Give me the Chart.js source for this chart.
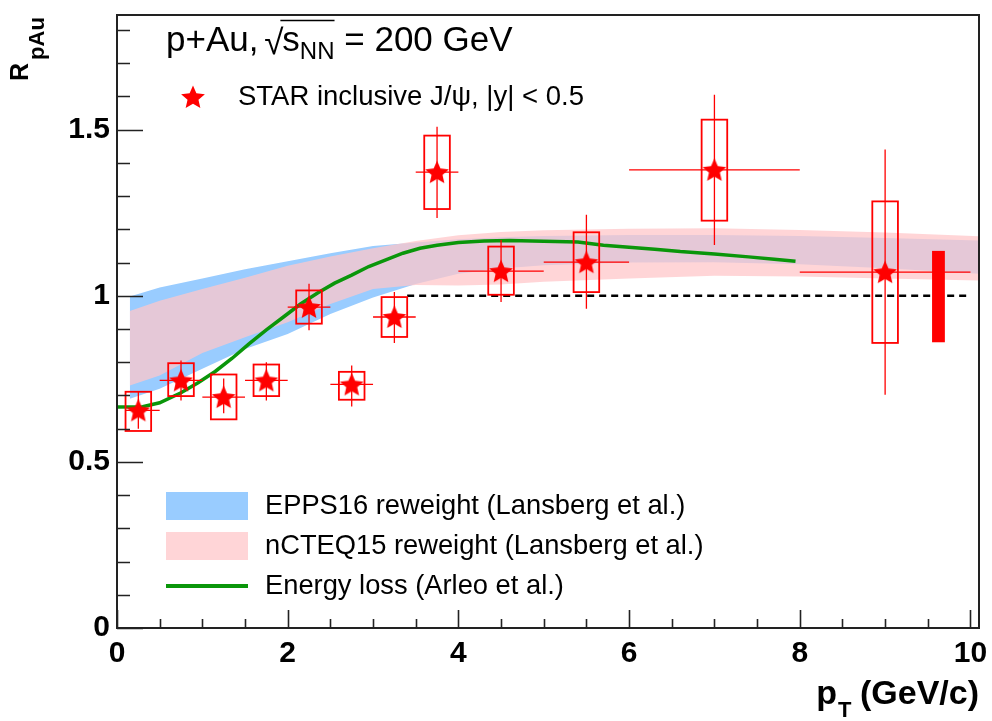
<!DOCTYPE html>
<html>
<head>
<meta charset="utf-8">
<script src="https://cdn.jsdelivr.net/npm/chart.js@4.4.1/dist/chart.umd.min.js"></script>
<style>
  html, body { margin: 0; padding: 0; background: #fff; }
  #wrap { width: 992px; height: 721px; position: relative; }
</style>
</head>
<body>
<div id="wrap"><canvas id="rpau" width="992" height="721"></canvas></div>
<script>
// ---- STAR inclusive J/psi R_pAu ----
const ptCenter = [0.25, 0.75, 1.25, 1.75, 2.25, 2.75, 3.25, 3.75, 4.5, 5.5, 7.0, 9.0];
const ptLow    = [0.1, 0.5, 1.0, 1.5, 2.0, 2.5, 3.0, 3.5, 4.0, 5.0, 6.0, 8.0];
const ptHigh   = [0.5, 1.0, 1.5, 2.0, 2.5, 3.0, 3.5, 4.0, 5.0, 6.0, 8.0, 10.0];
const rpAu     = [0.655, 0.745, 0.695, 0.745, 0.966, 0.733, 0.936, 1.372, 1.074, 1.101, 1.379, 1.071];
const statLow  = [0.600, 0.685, 0.646, 0.685, 0.896, 0.667, 0.858, 1.234, 0.981, 0.961, 1.153, 0.702];
const statHigh = [0.710, 0.805, 0.751, 0.800, 1.036, 0.790, 1.011, 1.509, 1.168, 1.244, 1.605, 1.440];
const sysLow   = [0.593, 0.698, 0.628, 0.698, 0.916, 0.687, 0.876, 1.261, 1.003, 1.011, 1.226, 0.858];
const sysHigh  = [0.711, 0.797, 0.763, 0.793, 1.016, 0.771, 0.996, 1.482, 1.148, 1.191, 1.530, 1.284];
const globalUnc = [0.86, 1.135];   // normalisation uncertainty
const globalPt = [9.55, 9.70];

// ---- model bands ----
const bandPt    = [0.15, 0.5, 1.0, 1.5, 2.0, 2.5, 3.0, 3.5, 4.0, 4.5, 5.0, 6.0, 7.0, 8.0, 9.0, 10.1];
const eppsLow   = [0.690, 0.720, 0.780, 0.840, 0.885, 0.945, 0.995, 1.035, 1.066, 1.082, 1.092, 1.100, 1.101, 1.095, 1.083, 1.066];
const eppsHigh  = [0.998, 1.025, 1.052, 1.080, 1.104, 1.128, 1.150, 1.160, 1.170, 1.176, 1.180, 1.183, 1.183, 1.180, 1.174, 1.166];
const ncteqLow  = [0.730, 0.760, 0.828, 0.875, 0.920, 0.975, 1.020, 1.032, 1.031, 1.034, 1.042, 1.052, 1.060, 1.058, 1.052, 1.046];
const ncteqHigh = [0.954, 0.985, 1.020, 1.054, 1.090, 1.118, 1.143, 1.165, 1.182, 1.192, 1.197, 1.202, 1.203, 1.198, 1.190, 1.179];

// ---- energy loss (Arleo et al.) ----
const elossPt = [0, 0.3, 0.5, 0.75, 0.95, 1.15, 1.35, 1.55, 1.75, 1.95, 2.15, 2.35, 2.55, 2.75, 2.95, 3.15, 3.35, 3.55, 3.75, 4.0, 4.3, 4.6, 5.0, 5.4, 5.7, 6.0, 6.3, 6.6, 7.0, 7.4, 7.7, 7.95];
const elossR  = [0.665, 0.666, 0.678, 0.708, 0.738, 0.772, 0.812, 0.856, 0.897, 0.936, 0.975, 1.008, 1.038, 1.062, 1.088, 1.108, 1.128, 1.143, 1.152, 1.160, 1.165, 1.166, 1.164, 1.162, 1.152, 1.146, 1.140, 1.133, 1.126, 1.117, 1.110, 1.104];

const unityPt = [3.4, 10.0];
const unityR  = [1, 1];

const xTicks = [0, 2, 4, 6, 8, 10];
const yTicks = [0, 0.5, 1, 1.5];

const FONT = "'Liberation Sans', Arial, Helvetica, sans-serif";
const RED = '#ff0000';
const BLUE = '#99ccff';
const PINK = 'rgba(255,199,202,0.75)';
const GREEN = '#0a960a';

const pts = (xs, ys) => xs.map((x, i) => ({ x: x, y: ys[i] }));

// star marker (ROOT style 29)
function makeStar(size) {
    const c = document.createElement('canvas');
    c.width = size; c.height = size;
    const g = c.getContext('2d');
    const m = size / 2;
    g.fillStyle = RED;
    g.beginPath();
    for (let i = 0; i < 10; i++) {
        const r = i % 2 === 0 ? m - 0.5 : (m - 0.5) * 0.46;
        const a = -Math.PI / 2 + i * Math.PI / 5;
        g.lineTo(m + r * Math.cos(a), m + 1 + r * Math.sin(a));
    }
    g.closePath();
    g.fill();
    return c;
}
const starImg = makeStar(26);

// error bars, systematic boxes and global box, drawn just under the stars
const errorBoxes = {
    id: 'errorBoxes',
    beforeDatasetDraw(chart, args) {
        if (args.index !== 6) return;
        const ctx = chart.ctx;
        const xs = chart.scales.x, ys = chart.scales.y;
        ctx.save();
        // global uncertainty
        ctx.fillStyle = RED;
        const gx0 = xs.getPixelForValue(globalPt[0]), gx1 = xs.getPixelForValue(globalPt[1]);
        const gy0 = ys.getPixelForValue(globalUnc[1]), gy1 = ys.getPixelForValue(globalUnc[0]);
        ctx.fillRect(gx0, gy0, gx1 - gx0, gy1 - gy0);

        ctx.strokeStyle = RED;
        ptCenter.forEach((x, i) => {
            const px = xs.getPixelForValue(x);
            const py = ys.getPixelForValue(rpAu[i]);
            // stat errors
            ctx.lineWidth = 1.3;
            ctx.beginPath();
            ctx.moveTo(px, ys.getPixelForValue(statLow[i]));
            ctx.lineTo(px, ys.getPixelForValue(statHigh[i]));
            ctx.moveTo(xs.getPixelForValue(ptLow[i]), py);
            ctx.lineTo(xs.getPixelForValue(ptHigh[i]), py);
            ctx.stroke();
            // sys box
            ctx.lineWidth = 1.8;
            const bx0 = xs.getPixelForValue(x - 0.15), bx1 = xs.getPixelForValue(x + 0.15);
            const by0 = ys.getPixelForValue(sysHigh[i]), by1 = ys.getPixelForValue(sysLow[i]);
            ctx.strokeRect(bx0, by0, bx1 - bx0, by1 - by0);
        });
        ctx.restore();
    }
};

// frame, inner ticks, titles and legends
const rootFrame = {
    id: 'rootFrame',
    afterDraw(chart) {
        const ctx = chart.ctx;
        const a = chart.chartArea;
        const xs = chart.scales.x, ys = chart.scales.y;
        ctx.save();
        ctx.strokeStyle = '#222';
        ctx.lineWidth = 2;
        ctx.strokeRect(a.left, a.top, a.right - a.left, a.bottom - a.top);

        // y ticks
        ctx.lineWidth = 1.6;
        ctx.beginPath();
        for (let k = 0; k <= 18; k++) {
            const v = k / 10;
            const py = Math.round(ys.getPixelForValue(v)) + 0.5;
            const len = k % 5 === 0 ? 26 : 13;
            ctx.moveTo(a.left, py);
            ctx.lineTo(a.left + len, py);
        }
        // x ticks
        for (let k = 0; k <= 20; k++) {
            const v = k / 2;
            const px = Math.round(xs.getPixelForValue(v)) + 0.5;
            const len = k % 4 === 0 ? 18 : 9;
            ctx.moveTo(px, a.bottom);
            ctx.lineTo(px, a.bottom - len);
        }
        ctx.stroke();

        ctx.fillStyle = '#000';
        ctx.textBaseline = 'alphabetic';
        ctx.textAlign = 'left';

        // y title  R_pAu
        ctx.save();
        ctx.translate(28, 81);
        ctx.rotate(-Math.PI / 2);
        ctx.font = 'bold 25px ' + FONT;
        ctx.fillText('R', 0, 0);
        const rw = ctx.measureText('R').width;
        ctx.font = 'bold 22px ' + FONT;
        ctx.fillText('pAu', rw + 3, 16);
        ctx.restore();

        // x title  p_T (GeV/c)
        ctx.font = 'bold 34px ' + FONT;
        const rest = ' (GeV/c)';
        const wRest = ctx.measureText(rest).width;
        const wP = ctx.measureText('p').width;
        ctx.font = 'bold 22px ' + FONT;
        const wT = ctx.measureText('T').width;
        let tx = 979 - wRest - wT - wP;
        ctx.font = 'bold 34px ' + FONT;
        ctx.fillText('p', tx, 704);
        ctx.font = 'bold 22px ' + FONT;
        ctx.fillText('T', tx + wP + 1, 717);
        ctx.font = 'bold 34px ' + FONT;
        ctx.fillText(rest, tx + wP + wT, 704);

        // header  p+Au, sqrt(s_NN) = 200 GeV
        ctx.font = '35px ' + FONT;
        let hx = 166;
        const hy = 51;
        ctx.fillText('p+Au, ', hx, hy);
        hx += ctx.measureText('p+Au, ').width - 4;
        ctx.fillText('\u221A', hx, hy + 3);
        hx += ctx.measureText('\u221A').width - 1;
        const sx0 = hx;
        ctx.fillText('s', hx, hy);
        hx += ctx.measureText('s').width;
        ctx.font = '24px ' + FONT;
        ctx.fillText('NN', hx, hy + 8);
        hx += ctx.measureText('NN').width;
        ctx.lineWidth = 1.5;
        ctx.strokeStyle = '#000';
        ctx.beginPath();
        ctx.moveTo(sx0 - 2, 20.5);
        ctx.lineTo(hx, 20.5);
        ctx.stroke();
        ctx.font = '35px ' + FONT;
        ctx.fillText(' = 200 GeV', hx, hy);

        // STAR legend
        ctx.drawImage(starImg, 193 - 13, 97 - 13);
        ctx.font = '27.5px ' + FONT;
        ctx.textBaseline = 'middle';
        ctx.fillText('STAR inclusive J/\u03C8, |y| < 0.5', 238, 97);

        // model legend
        ctx.fillStyle = BLUE;
        ctx.fillRect(166, 492, 82, 28);
        ctx.fillStyle = PINK;
        ctx.fillRect(166, 532, 82, 28);
        ctx.strokeStyle = GREEN;
        ctx.lineWidth = 4;
        ctx.beginPath();
        ctx.moveTo(166, 586);
        ctx.lineTo(248, 586);
        ctx.stroke();
        ctx.fillStyle = '#000';
        ctx.font = '27.3px ' + FONT;
        ctx.fillText('EPPS16 reweight (Lansberg et al.)', 265, 506);
        ctx.fillText('nCTEQ15 reweight (Lansberg et al.)', 265, 546);
        ctx.fillText('Energy loss (Arleo et al.)', 265, 586);
        ctx.restore();
    }
};

const lineDs = (label, xs, ys, extra) => Object.assign({
    label: label,
    data: pts(xs, ys),
    showLine: true,
    pointRadius: 0,
    borderWidth: 0,
    fill: false
}, extra);

// no extra padding for tick labels: the frame must sit exactly where ROOT put it
const noPad = (s) => { s.paddingTop = 0; s.paddingBottom = 0; s.paddingLeft = 0; s.paddingRight = 0; };

new Chart(document.getElementById('rpau'), {
    type: 'scatter',
    data: {
        datasets: [
            lineDs('EPPS16 low', bandPt, eppsLow, { order: 10 }),
            lineDs('EPPS16 reweight (Lansberg et al.)', bandPt, eppsHigh, { order: 9, fill: 0, backgroundColor: BLUE }),
            lineDs('nCTEQ15 low', bandPt, ncteqLow, { order: 8 }),
            lineDs('nCTEQ15 reweight (Lansberg et al.)', bandPt, ncteqHigh, { order: 7, fill: 2, backgroundColor: PINK }),
            lineDs('unity', unityPt, unityR, { order: 6, borderWidth: 2.5, borderColor: '#000', borderDash: [7, 5] }),
            lineDs('Energy loss (Arleo et al.)', elossPt, elossR, { order: 5, borderWidth: 3.5, borderColor: GREEN }),
            {
                label: 'STAR inclusive J/psi',
                data: pts(ptCenter, rpAu),
                order: 1,
                showLine: false,
                pointStyle: starImg,
                pointRadius: 12,
                pointHoverRadius: 12
            }
        ]
    },
    options: {
        responsive: false,
        animation: false,
        devicePixelRatio: 1,
        layout: { padding: { left: 0, top: 15, right: 12, bottom: 0 } },
        plugins: {
            legend: { display: false },
            tooltip: { enabled: false }
        },
        scales: {
            x: {
                type: 'linear',
                min: 0, max: 10.1,
                grid: { display: false, drawTicks: false },
                border: { display: false },
                afterFit: (s) => { s.height = 93; noPad(s); },
                afterBuildTicks: (s) => { s.ticks = xTicks.map(v => ({ value: v })); },
                ticks: {
                    padding: 8,
                    color: '#000',
                    maxRotation: 0,
                    autoSkip: false,
                    font: { family: FONT, size: 30, weight: 'bold' },
                    callback: (v) => String(v)
                }
            },
            y: {
                type: 'linear',
                min: 0, max: 1.845,
                grid: { display: false, drawTicks: false },
                border: { display: false },
                afterFit: (s) => { s.width = 117; noPad(s); },
                afterBuildTicks: (s) => { s.ticks = yTicks.map(v => ({ value: v })); },
                ticks: {
                    padding: 7,
                    color: '#000',
                    autoSkip: false,
                    font: { family: FONT, size: 30, weight: 'bold' },
                    callback: (v) => String(v)
                }
            }
        }
    },
    plugins: [errorBoxes, rootFrame]
});
</script>
</body>
</html>
